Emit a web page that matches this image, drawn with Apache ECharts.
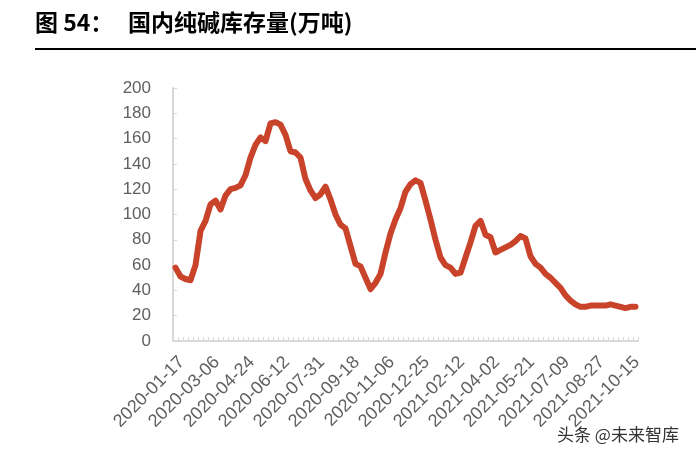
<!DOCTYPE html>
<html><head><meta charset="utf-8">
<script src="https://cdn.jsdelivr.net/npm/echarts@6/dist/echarts.min.js"></script>
<style>html,body{margin:0;padding:0;background:#fff}#c{width:696px;height:457px}</style>
</head><body><div id="c"></div>
<script>
var titleNo = '图 54：';
var titleText = '国内纯碱库存量(万吨)';
var watermark = '头条 @未来智库';
var dates = ['2020-01-17','2020-01-24','2020-01-31','2020-02-07','2020-02-14','2020-02-21','2020-02-28','2020-03-06','2020-03-13','2020-03-20','2020-03-27','2020-04-03','2020-04-10','2020-04-17','2020-04-24','2020-05-01','2020-05-08','2020-05-15','2020-05-22','2020-05-29','2020-06-05','2020-06-12','2020-06-19','2020-06-26','2020-07-03','2020-07-10','2020-07-17','2020-07-24','2020-07-31','2020-08-07','2020-08-14','2020-08-21','2020-08-28','2020-09-04','2020-09-11','2020-09-18','2020-09-25','2020-10-02','2020-10-09','2020-10-16','2020-10-23','2020-10-30','2020-11-06','2020-11-13','2020-11-20','2020-11-27','2020-12-04','2020-12-11','2020-12-18','2020-12-25','2021-01-01','2021-01-08','2021-01-15','2021-01-22','2021-01-29','2021-02-05','2021-02-12','2021-02-19','2021-02-26','2021-03-05','2021-03-12','2021-03-19','2021-03-26','2021-04-02','2021-04-09','2021-04-16','2021-04-23','2021-04-30','2021-05-07','2021-05-14','2021-05-21','2021-05-28','2021-06-04','2021-06-11','2021-06-18','2021-06-25','2021-07-02','2021-07-09','2021-07-16','2021-07-23','2021-07-30','2021-08-06','2021-08-13','2021-08-20','2021-08-27','2021-09-03','2021-09-10','2021-09-17','2021-09-24','2021-10-01','2021-10-08','2021-10-15','2021-10-22'];
var inventory = [58,51,49,48,60,87,95,108,111,104,115,120,121,123,131,145,155,161,158,172,173,171,163,150,149,145,128,119,113,116,122,112,100,92,89,75,61,59,50,41,46,53,70,85,96,105,118,124,127,125,111,96,80,66,60,58,53,54,66,78,91,95,84,82,70,72,74,76,79,83,81,67,61,58,53,50,46,42,36,32,29,27,27,28,28,28,28,29,28,27,26,27,27];
var yMin = 0, yMax = 200, yStep = 20;

var chart = echarts.init(document.getElementById('c'), null, {renderer:'canvas'});
chart.setOption({
  animation:false,
  backgroundColor:'#ffffff',
  grid:{left:173,right:58,top:88,bottom:116},
  xAxis:{
    type:'category', data:dates, boundaryGap:true,
    axisLine:{lineStyle:{color:'#d9d9d9',width:2}},
    axisTick:{show:true,inside:true,length:4,interval:0,lineStyle:{color:'#d9d9d9'}},
    axisLabel:{interval:6,rotate:45,margin:12,verticalAlign:'top',color:'#606060',fontSize:18,fontFamily:'Liberation Sans, Arial, sans-serif'},
    splitLine:{show:false}
  },
  yAxis:{
    type:'value', min:yMin, max:yMax, interval:yStep,
    axisLine:{show:true,lineStyle:{color:'#d9d9d9',width:2}},
    axisTick:{show:true,inside:true,length:4,lineStyle:{color:'#d9d9d9'}},
    axisLabel:{margin:22,color:'#606060',fontSize:17,fontFamily:'Liberation Sans, Arial, sans-serif'},
    splitLine:{show:false}
  },
  series:[{
    type:'line', data:inventory, showSymbol:false, symbol:'none',
    lineStyle:{color:'#c9432a',width:6,join:'round',cap:'round'}
  }],
  graphic:[
    {type:'text',left:35,top:11,style:{text:titleNo,font:'bold 23px "Noto Sans CJK SC"',fill:'#000'}},
    {type:'text',left:128,top:11,style:{text:titleText,font:'bold 23px "Noto Sans CJK SC"',fill:'#000'}},
    {type:'rect',shape:{x:35,y:48,width:661,height:2},style:{fill:'#000'}},
    {type:'text',left:557,top:426,style:{text:watermark,font:'17px "Noto Sans CJK SC"',fill:'#333'}}
  ]
});
</script></body></html>
